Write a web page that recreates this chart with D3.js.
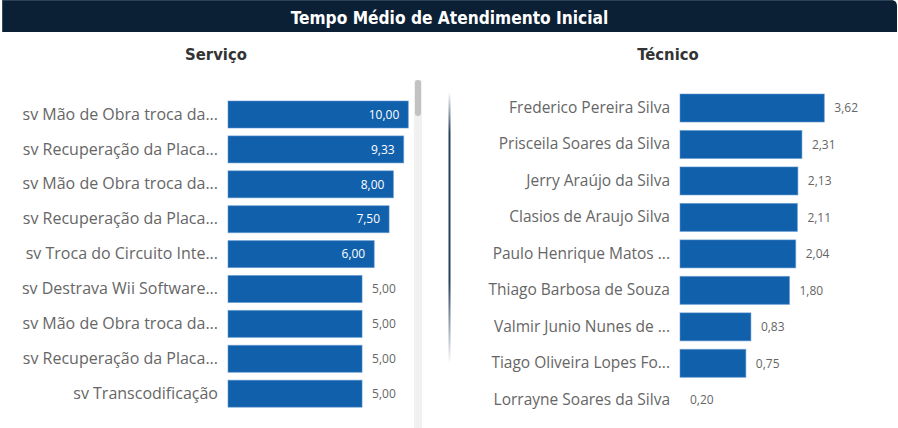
<!DOCTYPE html>
<html>
<head>
<meta charset="utf-8">
<script src="https://cdn.jsdelivr.net/npm/d3@7"></script>
<style>
  html, body { margin: 0; padding: 0; background: #ffffff; }
  svg { display: block; }
</style>
</head>
<body>
<svg id="chart" width="898" height="428"></svg>
<script>
// ---------- DATA ----------
const chartTitle = "Tempo Médio de Atendimento Inicial";
const serviceTitle = "Serviço";
const technicianTitle = "Técnico";

const serviceCategories = [
  "sv Mão de Obra troca da...",
  "sv Recuperação da Placa...",
  "sv Mão de Obra troca da...",
  "sv Recuperação da Placa...",
  "sv Troca do Circuito Inte...",
  "sv Destrava Wii Software...",
  "sv Mão de Obra troca da...",
  "sv Recuperação da Placa...",
  "sv Transcodificação"
];
const serviceValues = [10.00, 9.33, 8.00, 7.50, 6.00, 5.00, 5.00, 5.00, 5.00];
const serviceAxisMin = 0.67;   // smallest value of the list (rows hidden by scrolling)

const technicianCategories = [
  "Frederico Pereira Silva",
  "Prisceila Soares da Silva",
  "Jerry Araújo da Silva",
  "Clasios de Araujo Silva",
  "Paulo Henrique Matos ...",
  "Thiago Barbosa de Souza",
  "Valmir Junio Nunes de ...",
  "Tiago Oliveira Lopes Fo...",
  "Lorrayne Soares da Silva"
];
const technicianValues = [3.62, 2.31, 2.13, 2.11, 2.04, 1.80, 0.83, 0.75, 0.20];

// ---------- STYLE ----------
const barColor = "#1160ac";
const labelFont = "'Open Sans', 'Noto Sans', sans-serif";
const titleFont = "'DejaVu Sans Condensed', 'Liberation Sans Narrow', sans-serif";
const ptBR = d3.formatLocale({decimal: ",", thousands: ".", grouping: [3], currency: ["R$", ""]});
const fmt = ptBR.format(".2f");

const svg = d3.select("#chart");
const defs = svg.append("defs");

// ---------- TITLE BAR ----------
svg.append("path")
  .attr("d", "M2,0 H891 Q897,0 897,6 V32 H2 Z")
  .attr("fill", "#0c2035");
svg.append("line").attr("x1", 2).attr("x2", 893).attr("y1", 0.5).attr("y2", 0.5)
  .attr("stroke", "#2e4257").attr("stroke-width", 1);
svg.append("line").attr("x1", 2.5).attr("x2", 2.5).attr("y1", 0).attr("y2", 32)
  .attr("stroke", "#3b4f63").attr("stroke-width", 1);
svg.append("text")
  .attr("x", 449.5).attr("y", 24)
  .attr("text-anchor", "middle")
  .attr("font-family", titleFont)
  .attr("font-weight", "bold")
  .attr("font-size", 17.2)
  .attr("fill", "#ffffff")
  .text(chartTitle);

// ---------- SUBTITLES ----------
[[serviceTitle, 216], [technicianTitle, 668]].forEach(([t, cx]) => {
  svg.append("text")
    .attr("x", cx).attr("y", 59.5)
    .attr("text-anchor", "middle")
    .attr("font-family", titleFont)
    .attr("font-weight", "bold")
    .attr("font-size", 16.5)
    .attr("fill", "#333333")
    .text(t);
});

// ---------- SCROLLBAR (left visual) ----------
svg.append("rect").attr("x", 414).attr("y", 80).attr("width", 8).attr("height", 348)
  .attr("fill", "#f1f1f1");
svg.append("rect").attr("x", 415).attr("y", 80).attr("width", 6).attr("height", 36)
  .attr("rx", 3).attr("fill", "#c2c2c2");

// ---------- DIVIDER ----------
const grad = defs.append("linearGradient").attr("id", "divGrad")
  .attr("x1", 0).attr("x2", 0).attr("y1", 0).attr("y2", 1);
grad.append("stop").attr("offset", "0%").attr("stop-color", "#1d3652").attr("stop-opacity", 0);
grad.append("stop").attr("offset", "15%").attr("stop-color", "#1d3652").attr("stop-opacity", 0.95);
grad.append("stop").attr("offset", "70%").attr("stop-color", "#1d3652").attr("stop-opacity", 0.95);
grad.append("stop").attr("offset", "100%").attr("stop-color", "#1d3652").attr("stop-opacity", 0);
svg.append("rect").attr("x", 448.5).attr("y", 92).attr("width", 2).attr("height", 272)
  .attr("fill", "url(#divGrad)");

// ---------- BAR CHART HELPER ----------
function drawBars(opts) {
  const { cats, vals, xScale, yScale, labelLimit, catSize } = opts;
  const g = svg.append("g");
  const idx = d3.range(cats.length);
  const x0 = xScale.range()[0];

  // category axis (text only)
  const axis = d3.axisLeft(yScale).tickSize(0).tickPadding(10)
    .tickFormat(i => cats[i]);
  const ag = g.append("g").attr("transform", `translate(${x0},0)`).call(axis);
  ag.select(".domain").remove();
  ag.selectAll("text")
    .attr("font-family", labelFont)
    .attr("font-size", catSize)
    .attr("fill", "#666666");

  // bars
  g.selectAll("rect.bar").data(idx).join("rect")
    .attr("class", "bar")
    .attr("x", x0)
    .attr("y", i => yScale(i))
    .attr("width", i => Math.max(0, xScale(vals[i]) - x0))
    .attr("height", yScale.bandwidth())
    .attr("fill", barColor)
    .attr("stroke", i => xScale(vals[i]) - x0 > 0.5 ? "#5f97cf" : "none")
    .attr("stroke-opacity", 0.55)
    .attr("stroke-width", 1);

  // value labels
  const lbl = g.selectAll("text.val").data(idx).join("text")
    .attr("class", "val")
    .attr("font-family", labelFont)
    .attr("font-size", 12)
    .attr("dy", "0.35em")
    .attr("y", i => yScale(i) + yScale.bandwidth() / 2)
    .text(i => fmt(vals[i]));
  lbl.each(function(i) {
    const w = this.getComputedTextLength();
    const end = xScale(vals[i]);
    const self = d3.select(this);
    if (end + 10 + w <= labelLimit) {
      self.attr("x", end + 10).attr("text-anchor", "start").attr("fill", "#666666");
    } else {
      self.attr("x", end - 9).attr("text-anchor", "end").attr("fill", "#ffffff");
    }
  });
}

// ---------- LEFT: SERVIÇO ----------
const xService = d3.scaleLog()
  .domain([serviceAxisMin, d3.max(serviceValues)])
  .range([228, 408.3]);
const yService = d3.scaleBand()
  .domain(d3.range(serviceCategories.length))
  .range([101, 407.2])
  .paddingInner(0.226)
  .paddingOuter(0);
drawBars({ cats: serviceCategories, vals: serviceValues, xScale: xService, yScale: yService, labelLimit: 400, catSize: 16 });

// ---------- RIGHT: TÉCNICO ----------
const xTech = d3.scaleLog()
  .domain([d3.min(technicianValues), d3.max(technicianValues)])
  .range([680, 824.3]);
const yTech = d3.scaleBand()
  .domain(d3.range(technicianCategories.length))
  .range([94, 413.8])
  .paddingInner(0.232)
  .paddingOuter(0);
drawBars({ cats: technicianCategories, vals: technicianValues, xScale: xTech, yScale: yTech, labelLimit: 890, catSize: 15.5 });
</script>
</body>
</html>
